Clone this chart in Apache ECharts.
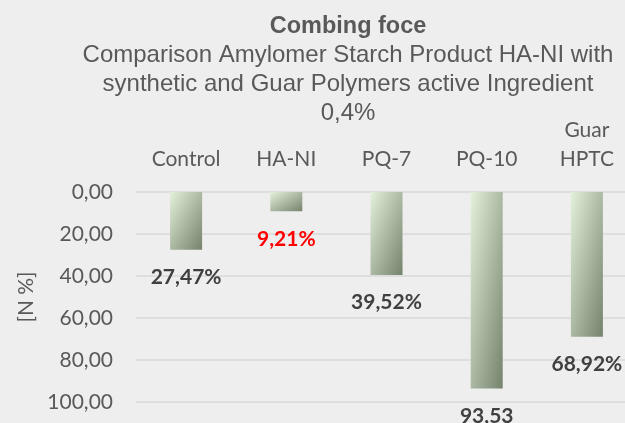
<!DOCTYPE html>
<html>
<head>
<meta charset="utf-8">
<script src="https://cdn.jsdelivr.net/npm/echarts@6/dist/echarts.min.js"></script>
<style>
html,body{margin:0;padding:0;background:#eeeeee;}
#chart{width:625px;height:423px;}
</style>
</head>
<body>
<div id="chart"></div>
<script>
const titleText = 'Combing foce';
const subtitleLines = [
  'Comparison Amylomer Starch Product HA-NI with',
  'synthetic and Guar Polymers active Ingredient',
  '0,4%'
];
const categories = ['Control', 'HA-NI', 'PQ-7', 'PQ-10', 'Guar\nHPTC'];
const values = [27.47, 9.21, 39.52, 93.53, 68.92];
const labelSuffixes = ['%', '%', '%', '', '%'];
const highlightCategory = 'HA-NI';
const yTicks = [0, 20, 40, 60, 80, 100];
const yAxisName = '[N %]';

const fmt = v => v.toFixed(2).replace('.', ',');

const chart = echarts.init(document.getElementById('chart'), null, {renderer: 'canvas'});

function barGradient(params) {
  // Excel-like diagonal gradient scaled with the shape
  const w = 32;
  const h = Math.max(1, params.value * 2.097);
  const d = h * h + w * w;
  const ex = 2 * h * h / d;
  const ey = 2 * w * w / d;
  return new echarts.graphic.LinearGradient(0, 0, ex, ey, [
    {offset: 0, color: '#e3f0da'},
    {offset: 1, color: '#76836c'}
  ]);
}

const data = values.map((v, i) => ({
  value: v,
  label: {
    color: categories[i] === highlightCategory ? '#ff0000' : '#404040'
  }
}));

chart.setOption({
  backgroundColor: '#eeeeee',
  animation: false,
  title: [
    {
      text: titleText,
      left: 348,
      top: 15,
      padding: 0,
      textAlign: 'center',
      textStyle: {fontFamily: 'Liberation Sans', fontWeight: 'bold', fontSize: 23.5, color: '#595959'}
    },
    {
      text: subtitleLines.join('\n'),
      left: 348,
      top: 41,
      padding: 0,
      textAlign: 'center',
      textStyle: {fontFamily: 'Liberation Sans', fontWeight: 'normal', fontSize: 24, lineHeight: 29, color: '#595959'}
    }
  ],
  grid: {left: 136, width: 501, top: 192, bottom: 21, containLabel: false, outerBoundsMode: 'none'},
  xAxis: {
    type: 'category',
    position: 'top',
    data: categories,
    axisLine: {show: false},
    axisTick: {show: false},
    axisLabel: {fontFamily: 'Lato', fontSize: 21, color: '#595959', margin: 18, lineHeight: 29, interval: 0}
  },
  yAxis: {
    type: 'value',
    inverse: true,
    min: yTicks[0],
    max: yTicks[yTicks.length - 1],
    interval: yTicks[1] - yTicks[0],
    name: yAxisName,
    nameLocation: 'middle',
    nameGap: 99,
    nameTextStyle: {fontFamily: 'Lato', fontSize: 21, color: '#595959'},
    axisLine: {show: false},
    axisTick: {show: false},
    axisLabel: {fontFamily: 'Lato', fontSize: 21, color: '#595959', margin: 23, formatter: v => fmt(v)},
    splitLine: {lineStyle: {color: '#d9d9d9', width: 1.5}}
  },
  series: [{
    type: 'bar',
    data: data,
    barWidth: 32,
    itemStyle: {color: barGradient},
    label: {
      show: true,
      position: 'bottom',
      distance: 17,
      fontFamily: 'Lato',
      fontWeight: 'bold',
      fontSize: 21,
      formatter: p => fmt(p.value) + labelSuffixes[p.dataIndex]
    }
  }]
});
</script>
</body>
</html>
